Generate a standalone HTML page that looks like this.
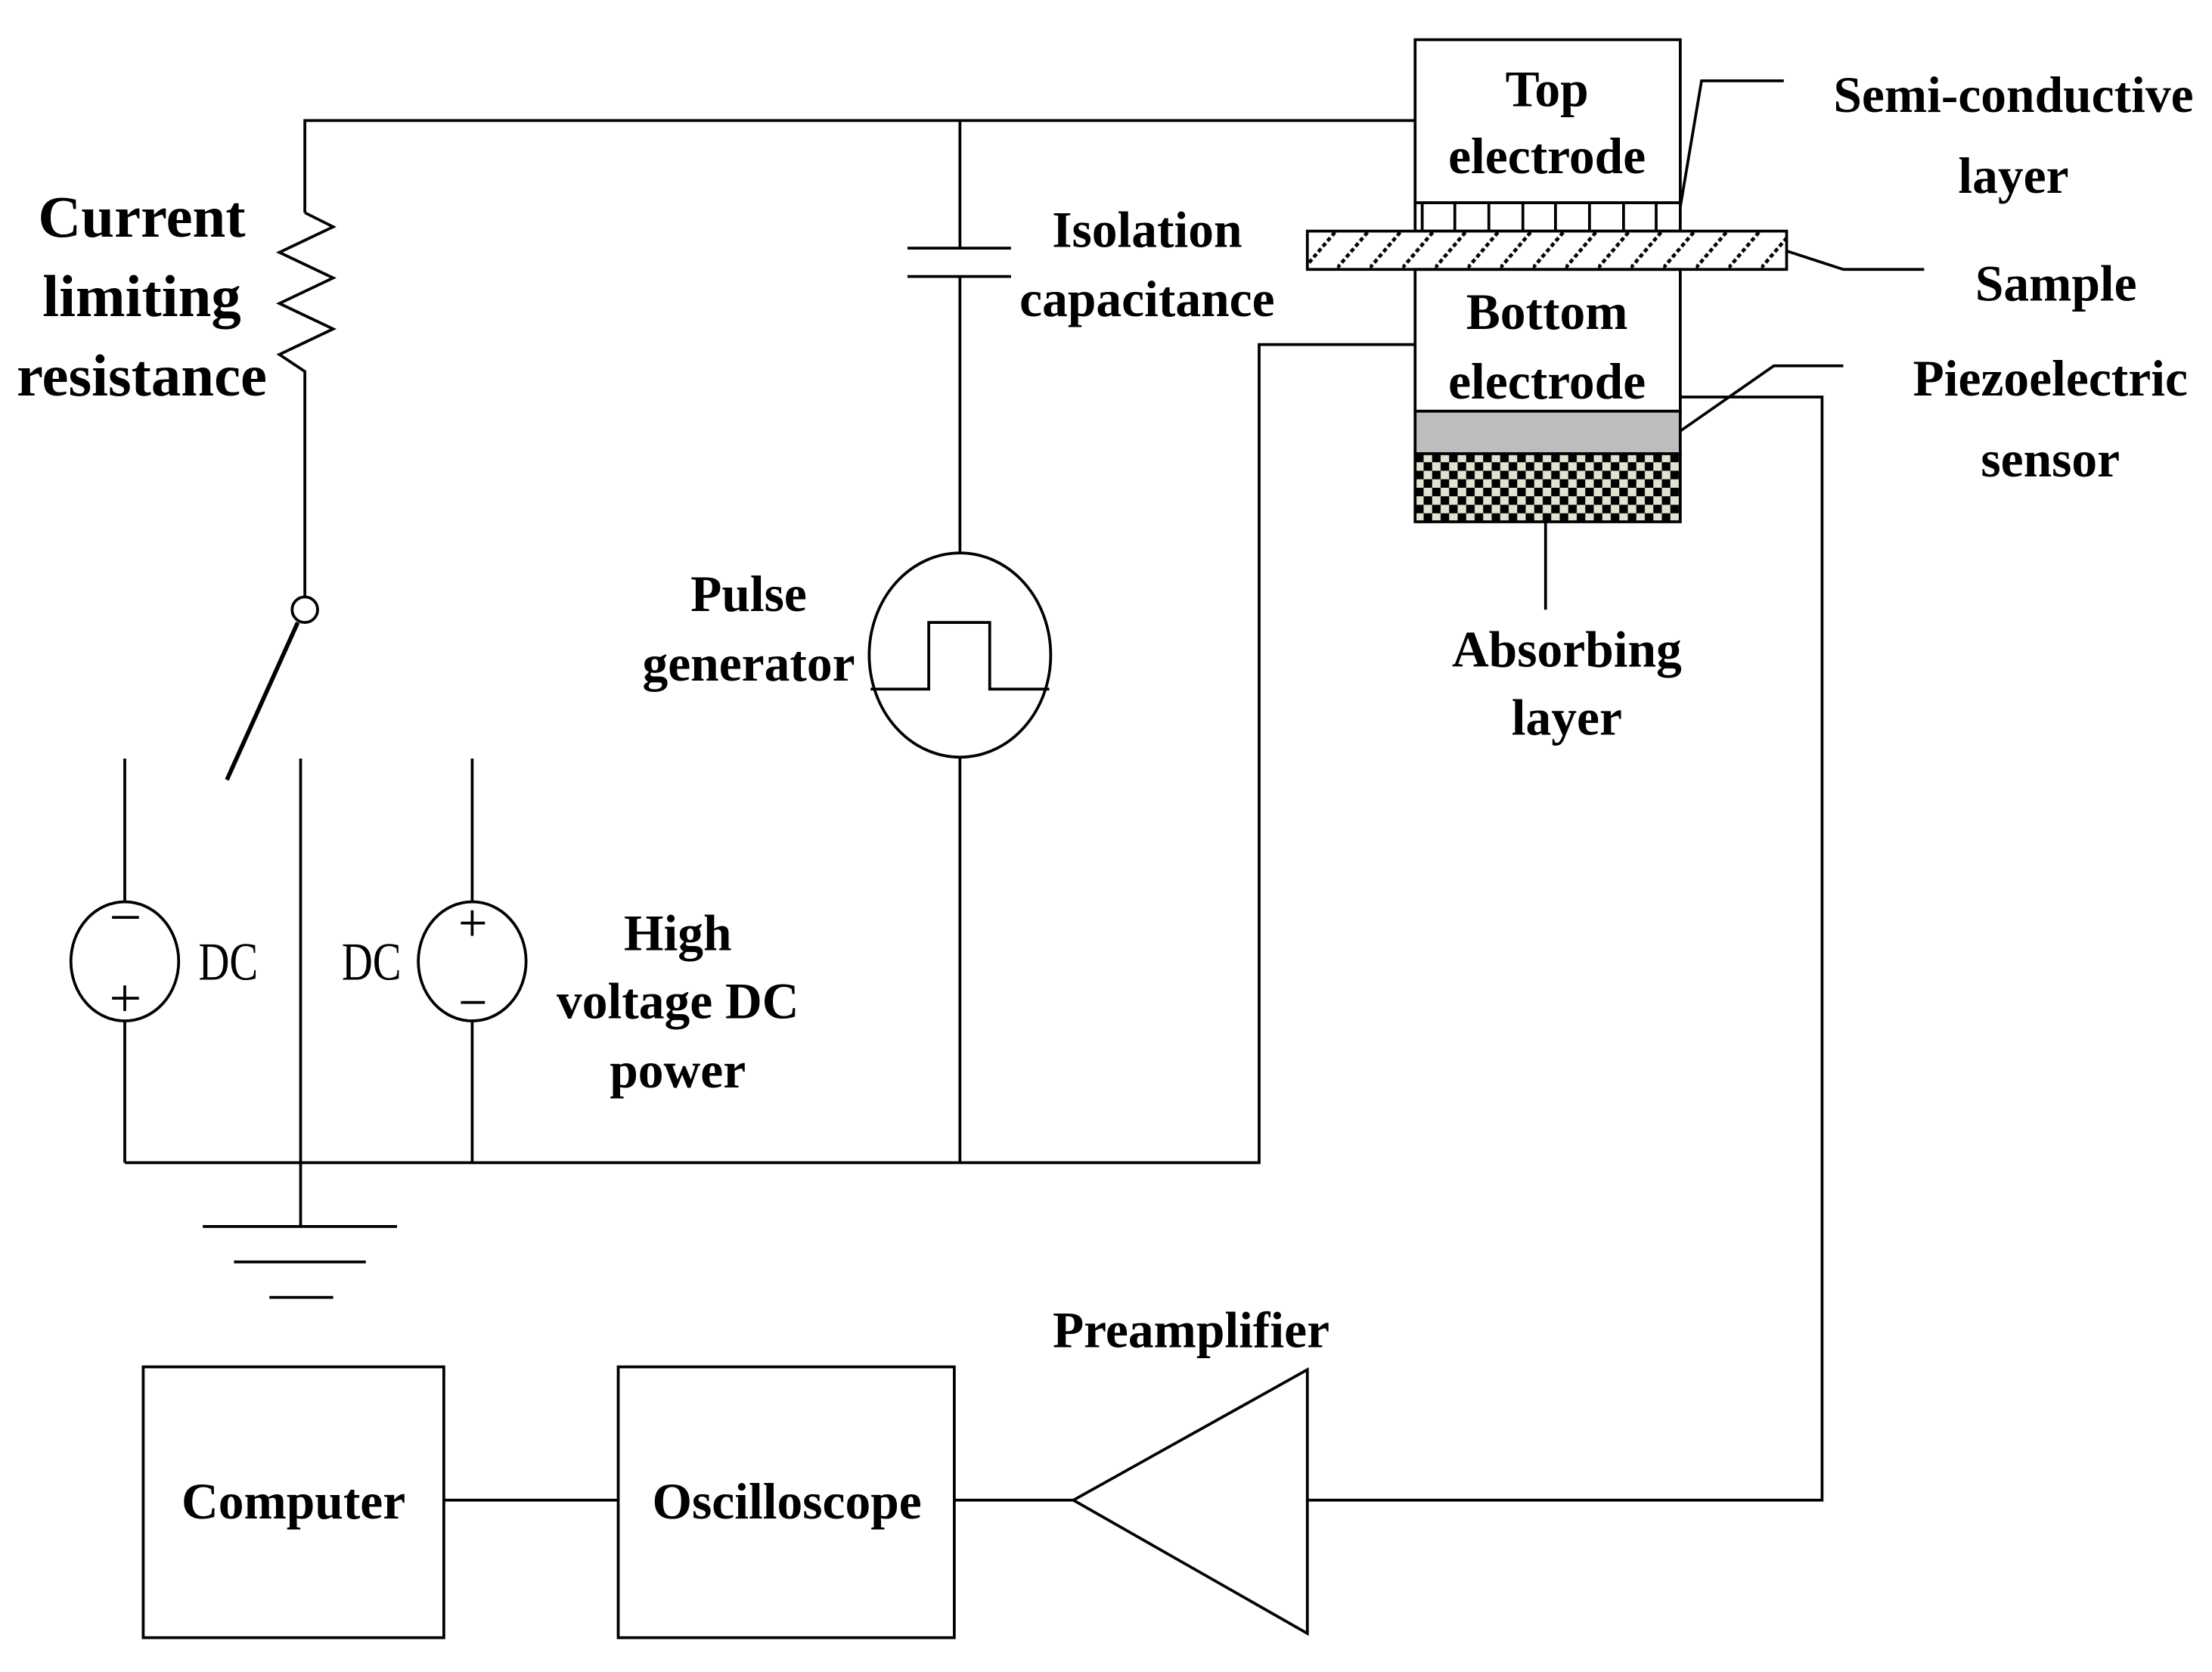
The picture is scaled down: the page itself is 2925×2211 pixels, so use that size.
<!DOCTYPE html>
<html><head><meta charset="utf-8"><style>html,body{margin:0;padding:0;background:#fff}svg{display:block}</style></head>
<body>
<svg width="2925" height="2211" viewBox="0 0 1560 1179.2" xmlns="http://www.w3.org/2000/svg">
<defs>
<pattern id="hatch" x="0" y="0" width="23" height="27" patternUnits="userSpaceOnUse">
<line x1="0" y1="27" x2="23" y2="0" stroke="#000" stroke-width="2.5" stroke-dasharray="3,2"/>
</pattern>
<pattern id="chk" x="998" y="320" width="12" height="12" patternUnits="userSpaceOnUse">
<rect width="12" height="12" fill="#dfe3d0"/><rect width="6" height="6" fill="#000"/><rect x="6" y="6" width="6" height="6" fill="#000"/>
</pattern>
</defs>
<g stroke="#000" stroke-width="2" fill="none">
<!-- top wire -->
<polyline points="215,150 215,85 998,85"/>
<polyline points="215,150 235,160 197,178 235,196 197,214 235,232 197,250 215,262 215,421"/>
<circle cx="215" cy="430" r="9"/>
<line x1="210" y1="439" x2="160" y2="550" stroke-width="3"/>
<!-- DC sources -->
<line x1="88" y1="535" x2="88" y2="637"/>
<ellipse cx="88" cy="678" rx="38" ry="42"/>
<line x1="88" y1="720" x2="88" y2="820"/>
<line x1="79" y1="647" x2="98" y2="647"/>
<line x1="79" y1="704" x2="98" y2="704"/><line x1="88" y1="695" x2="88" y2="713"/>
<line x1="212" y1="535" x2="212" y2="865"/>
<line x1="333" y1="535" x2="333" y2="637"/>
<ellipse cx="333" cy="678" rx="38" ry="42"/>
<line x1="333" y1="720" x2="333" y2="820"/>
<line x1="325" y1="651" x2="342" y2="651"/><line x1="333" y1="642" x2="333" y2="660"/>
<line x1="325" y1="707" x2="342" y2="707"/>
<!-- bottom wire -->
<polyline points="88,820 888,820 888,243 998,243"/>
<!-- ground -->
<line x1="143" y1="865" x2="280" y2="865"/>
<line x1="165" y1="890" x2="258" y2="890"/>
<line x1="190" y1="915" x2="235" y2="915"/>
<!-- capacitor & pulse generator -->
<line x1="677" y1="85" x2="677" y2="175"/>
<line x1="640" y1="175" x2="713" y2="175"/>
<line x1="640" y1="195" x2="713" y2="195"/>
<line x1="677" y1="195" x2="677" y2="390"/>
<ellipse cx="677" cy="462" rx="64" ry="72"/>
<line x1="677" y1="534" x2="677" y2="820"/>
<polyline points="614,486 655,486 655,439 698,439 698,486 740,486"/>
<!-- electrode stack -->
<rect x="998" y="28" width="187" height="115"/>
<rect x="998" y="143" width="187" height="20"/>
<rect x="922" y="163" width="338" height="27" fill="url(#hatch)"/>
<rect x="998" y="190" width="187" height="100"/>
<rect x="998" y="290" width="187" height="30" fill="#bdbdbd"/>
<rect x="998" y="320" width="187" height="48" fill="url(#chk)"/>
<line x1="1090" y1="368" x2="1090" y2="430"/>
<polyline points="1185,146 1200,57 1258,57"/>
<polyline points="1260,177 1300,190 1357,190"/>
<polyline points="1185,304 1251,258 1300,258"/>
<polyline points="1185,280 1285,280 1285,1058 923,1058"/>
<polygon points="922,966 922,1152 757,1058"/>
<line x1="673" y1="1058" x2="757" y2="1058"/>
<rect x="101" y="964" width="212" height="191"/>
<rect x="436" y="964" width="237" height="191"/>
<line x1="313" y1="1058" x2="436" y2="1058"/>
</g>
<g stroke="#000" stroke-width="2">
<line x1="1003" y1="143" x2="1003" y2="163"/><line x1="1026" y1="143" x2="1026" y2="163"/><line x1="1050" y1="143" x2="1050" y2="163"/><line x1="1074" y1="143" x2="1074" y2="163"/><line x1="1097" y1="143" x2="1097" y2="163"/><line x1="1121" y1="143" x2="1121" y2="163"/><line x1="1145" y1="143" x2="1145" y2="163"/><line x1="1168" y1="143" x2="1168" y2="163"/>
</g>
<g font-family="Liberation Serif, serif" font-weight="bold" fill="#000" text-anchor="middle" font-size="36">
<text x="100" y="167" font-size="42">Current</text>
<text x="100" y="223" font-size="42">limiting</text>
<text x="100" y="279" font-size="42">resistance</text>
<text x="809" y="174">Isolation</text>
<text x="809" y="223">capacitance</text>
<text x="528" y="431">Pulse</text>
<text x="528" y="480">generator</text>
<text x="478" y="670">High</text>
<text x="478" y="718">voltage DC</text>
<text x="478" y="767">power</text>
<text x="1091" y="75">Top</text>
<text x="1091" y="122">electrode</text>
<text x="1091" y="232">Bottom</text>
<text x="1091" y="281">electrode</text>
<text x="1420" y="79">Semi-conductive</text>
<text x="1420" y="136">layer</text>
<text x="1450" y="212">Sample</text>
<text x="1446" y="279">Piezoelectric</text>
<text x="1446" y="336">sensor</text>
<text x="1105" y="470">Absorbing</text>
<text x="1105" y="518">layer</text>
<text x="840" y="950">Preamplifier</text>
<text x="207" y="1071">Computer</text>
<text x="555" y="1071">Oscilloscope</text>
</g>
<g font-family="Liberation Serif, serif" fill="#000" font-size="38">
<text x="140" y="691" textLength="42" lengthAdjust="spacingAndGlyphs">DC</text>
<text x="241" y="691" textLength="42" lengthAdjust="spacingAndGlyphs">DC</text>
</g>
</svg>
</body></html>
